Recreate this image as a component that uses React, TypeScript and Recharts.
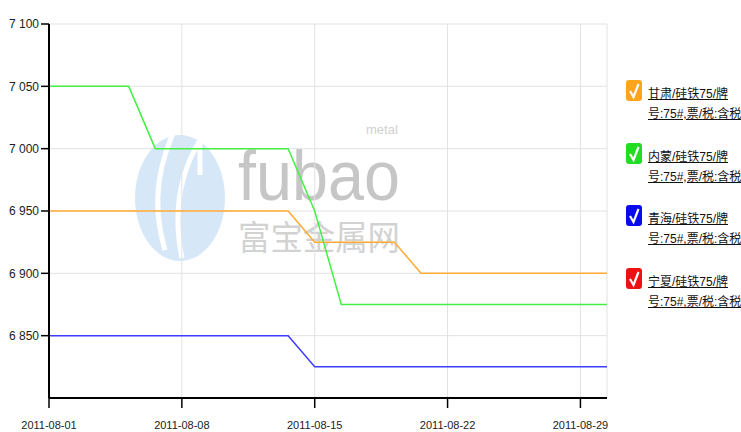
import { CartesianGrid, Line, LineChart, XAxis, YAxis } from "recharts";

// business days, Aug 2011
const DATES = [
  "2011-08-01", "2011-08-02", "2011-08-03", "2011-08-04", "2011-08-05",
  "2011-08-08", "2011-08-09", "2011-08-10", "2011-08-11", "2011-08-12",
  "2011-08-15", "2011-08-16", "2011-08-17", "2011-08-18", "2011-08-19",
  "2011-08-22", "2011-08-23", "2011-08-24", "2011-08-25", "2011-08-26",
  "2011-08-29", "2011-08-30",
];

const GANSU = [
  6950, 6950, 6950, 6950, 6950, 6950, 6950, 6950, 6950, 6950,
  6925, 6925, 6925, 6925, 6900, 6900, 6900, 6900, 6900, 6900, 6900, 6900,
];
const NEIMENG = [
  7050, 7050, 7050, 7050, 7000, 7000, 7000, 7000, 7000, 7000,
  6950, 6875, 6875, 6875, 6875, 6875, 6875, 6875, 6875, 6875, 6875, 6875,
];
const QINGHAI = [
  6850, 6850, 6850, 6850, 6850, 6850, 6850, 6850, 6850, 6850,
  6825, 6825, 6825, 6825, 6825, 6825, 6825, 6825, 6825, 6825, 6825, 6825,
];
const NINGXIA: (number | null)[] = DATES.map(() => null);

const X_TICKS = ["2011-08-01", "2011-08-08", "2011-08-15", "2011-08-22", "2011-08-29"];
const Y_TICKS = [6850, 6900, 6950, 7000, 7050, 7100];

const SERIES = [
  { key: "gansu", values: GANSU, stroke: "#ffaa33", box: "#ffa41c", lines: ["甘肃/硅铁75/牌", "号:75#,票/税:含税"] },
  { key: "neimeng", values: NEIMENG, stroke: "#44f044", box: "#22dd22", lines: ["内蒙/硅铁75/牌", "号:75#,票/税:含税"] },
  { key: "qinghai", values: QINGHAI, stroke: "#3d3dff", box: "#0a0aee", lines: ["青海/硅铁75/牌", "号:75#,票/税:含税"] },
  { key: "ningxia", values: NINGXIA, stroke: "#ff2020", box: "#ee1111", lines: ["宁夏/硅铁75/牌", "号:75#,票/税:含税"] },
];

const rows = DATES.map((date, i) => {
  const row: Record<string, string | number | null> = { date };
  for (const s of SERIES) row[s.key] = s.values[i];
  return row;
});

const FONT = '"Liberation Sans", Arial, "Noto Sans CJK SC", sans-serif';

const formatThousands = (n: number) =>
  `${Math.floor(n / 1000)} ${String(n % 1000).padStart(3, "0")}`;

const Watermark = () => (
  <svg width={741} height={432} style={{ position: "absolute", left: 0, top: 0 }}>
    <ellipse cx={180} cy={198} rx={45} ry={63} fill="#d6e8f7" />
    <path d="M165 250 C150 200 160 160 178 122" stroke="#fff" strokeWidth={5} fill="none" />
    <path d="M182 258 C172 210 182 170 200 140" stroke="#fff" strokeWidth={5} fill="none" />
    <path d="M200 120 L200 175" stroke="#fff" strokeWidth={5} fill="none" />
    <text x={238} y={200} fontSize={70} fill="#c6c6c6" textLength={162}
      lengthAdjust="spacingAndGlyphs" fontFamily={FONT}>fubao</text>
    <text x={366} y={134} fontSize={13} fill="#d0d0d0" fontFamily={FONT}>metal</text>
    <text x={238} y={250} fontSize={34} fill="#d2d2d2" textLength={162}
      lengthAdjust="spacingAndGlyphs" fontFamily='"Noto Sans CJK SC", sans-serif'>富宝金属网</text>
  </svg>
);

const LegendBox = () => (
  <div style={{ position: "absolute", left: 0, top: 0 }}>
    {SERIES.map((s, i) => (
      <div key={s.key} style={{ position: "absolute", left: 626, top: 80 + i * 62.7 }}>
        <svg width={16} height={21} style={{ position: "absolute", left: 0, top: 0 }}>
          <rect x={0} y={0} width={16} height={21} rx={3} fill={s.box} />
          <path d="M4 11 L7.5 17 L12.5 4" stroke="#fff" strokeWidth={2.2} fill="none" />
        </svg>
        <div
          style={{
            position: "absolute",
            left: 22,
            top: 4,
            whiteSpace: "nowrap",
            fontSize: 12,
            lineHeight: "20px",
            color: "#111",
            textDecoration: "underline",
            fontFamily: FONT,
          }}
        >
          {s.lines.map((l) => (
            <div key={l}>{l}</div>
          ))}
        </div>
      </div>
    ))}
  </div>
);

export default function App() {
  return (
    <div
      style={{
        position: "absolute",
        left: 0,
        top: 0,
        width: 741,
        height: 432,
        background: "#fff",
        overflow: "hidden",
        fontFamily: FONT,
      }}
    >
      <Watermark />
      <div style={{ position: "absolute", left: 0, top: 0 }}>
        <LineChart
          width={741}
          height={432}
          data={rows}
          margin={{ top: 24, right: 134, bottom: 0, left: 0 }}
        >
          <CartesianGrid stroke="#e2e2e2" strokeWidth={1} />
          <XAxis
            dataKey="date"
            type="category"
            ticks={X_TICKS}
            interval={0}
            height={34}
            tickSize={10}
            tickMargin={13}
            axisLine={{ stroke: "#000", strokeWidth: 2 }}
            tickLine={{ stroke: "#000", strokeWidth: 1.5 }}
            tick={{ fill: "#222", fontSize: 11 }}
          />
          <YAxis
            type="number"
            domain={[6800, 7100]}
            ticks={Y_TICKS}
            interval={0}
            width={49}
            tickSize={8}
            tickFormatter={formatThousands}
            axisLine={{ stroke: "#000", strokeWidth: 2 }}
            tickLine={{ stroke: "#000", strokeWidth: 1.5 }}
            tick={{ fill: "#222", fontSize: 12 }}
          />
          {SERIES.map((s) => (
            <Line
              key={s.key}
              dataKey={s.key}
              type="linear"
              stroke={s.stroke}
              strokeWidth={1.5}
              dot={false}
              activeDot={false}
              isAnimationActive={false}
            />
          ))}
        </LineChart>
      </div>
      <LegendBox />
    </div>
  );
}
